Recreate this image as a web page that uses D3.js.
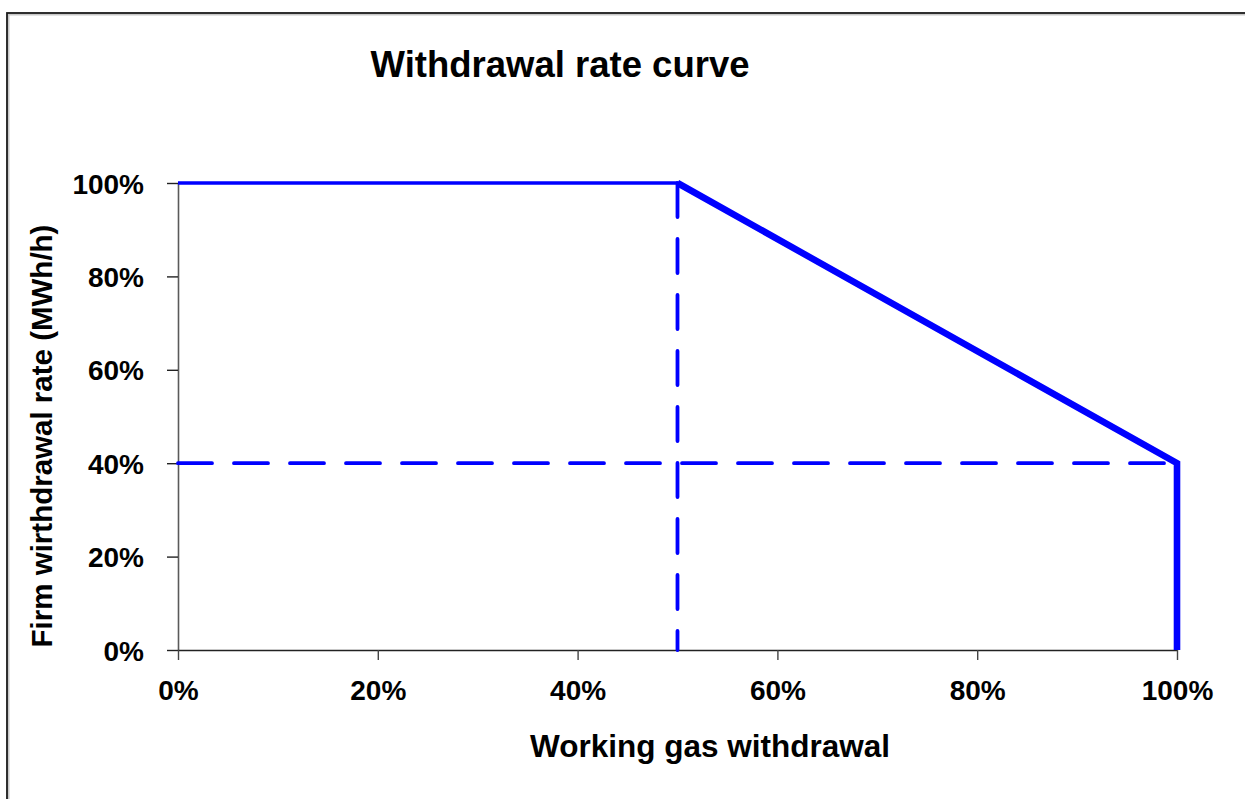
<!DOCTYPE html>
<html>
<head>
<meta charset="utf-8">
<script src="https://cdn.jsdelivr.net/npm/d3@7"></script>
<style>
  html, body { margin: 0; padding: 0; background: #fff; }
  svg { display: block; }
  text { font-family: "Liberation Sans", Arial, sans-serif; font-weight: bold; fill: #000; }
</style>
</head>
<body>
<svg id="chart" width="1245" height="799"></svg>
<script>
// ---- Data ----
const title = "Withdrawal rate curve";
const xTitle = "Working gas withdrawal";
const yTitle = "Firm wirthdrawal rate (MWh/h)";
const xTicks = [0, 20, 40, 60, 80, 100];
const yTicks = [0, 20, 40, 60, 80, 100];
// withdrawal curve: flat part then declining part (x = % withdrawn, y = % rate)
const flatSegment = [[0, 100], [50, 100]];
const declineSegment = [[50, 100], [100, 40], [100, 0]];
// dashed guide lines
const guideVertical = [[50, 100], [50, 0]];
const guideHorizontal = [[0, 40], [100, 40]];

// ---- Layout ----
const svg = d3.select("#chart");
const W = 1245, H = 799;
const plot = { left: 178, right: 1177, top: 183, bottom: 650 };

// frame
svg.append("rect").attr("x", 8.5).attr("y", 14.5).attr("width", W + 20).attr("height", H + 20)
  .attr("fill", "none").attr("stroke", "#c8c8c8").attr("stroke-width", 2);
svg.append("rect").attr("x", 7).attr("y", 13).attr("width", W + 20).attr("height", H + 20)
  .attr("fill", "none").attr("stroke", "#1a1a1a").attr("stroke-width", 1.8);

const x = d3.scaleLinear().domain([0, 100]).range([plot.left, plot.right]);
const y = d3.scaleLinear().domain([0, 100]).range([plot.bottom, plot.top]);
const fmt = d => d + "%";
const tickFont = "28px";

// y axis
const yAxis = svg.append("g").attr("transform", `translate(${plot.left},0)`)
  .call(d3.axisLeft(y).tickValues(yTicks).tickFormat(fmt).tickSize(11).tickSizeOuter(0));
yAxis.select(".domain").attr("stroke", "#5a5a5a").attr("stroke-width", 1.6);
yAxis.selectAll(".tick line").attr("stroke", "#222").attr("stroke-width", 1.4);
yAxis.selectAll(".tick text").attr("x", -34).attr("dy", "0.36em")
  .style("font-size", tickFont).style("font-family", "'Liberation Sans', Arial, sans-serif").style("font-weight", "bold");

// x axis
const xAxis = svg.append("g").attr("transform", `translate(0,${plot.bottom})`)
  .call(d3.axisBottom(x).tickValues(xTicks).tickFormat(fmt).tickSize(10).tickSizeOuter(0));
xAxis.select(".domain").attr("stroke", "#222").attr("stroke-width", 1.6);
xAxis.selectAll(".tick line").attr("stroke", "#444").attr("stroke-width", 1.4);
xAxis.selectAll(".tick text").attr("y", 50).attr("dy", 0)
  .style("font-size", tickFont).style("font-family", "'Liberation Sans', Arial, sans-serif").style("font-weight", "bold");

// lines
const line = d3.line().x(d => x(d[0])).y(d => y(d[1]));
const blue = "#0000ff";

svg.append("path").datum(guideHorizontal).attr("d", line)
  .attr("fill", "none").attr("stroke", blue).attr("stroke-width", 3.8)
  .attr("stroke-dasharray", "34,22").attr("stroke-linecap", "round");
svg.append("path").datum(guideVertical).attr("d", line)
  .attr("fill", "none").attr("stroke", blue).attr("stroke-width", 3.8)
  .attr("stroke-dasharray", "34,22").attr("stroke-linecap", "round");
svg.append("path").datum(flatSegment).attr("d", line)
  .attr("fill", "none").attr("stroke", blue).attr("stroke-width", 3.6);
svg.append("path").datum(declineSegment).attr("d", line)
  .attr("fill", "none").attr("stroke", blue).attr("stroke-width", 6.6)
  .attr("stroke-linejoin", "miter");

// titles
svg.append("text").attr("x", 560).attr("y", 77).attr("text-anchor", "middle")
  .style("font-size", "36.5px").text(title);
svg.append("text").attr("x", 710).attr("y", 757).attr("text-anchor", "middle")
  .style("font-size", "31.5px").text(xTitle);
svg.append("text").attr("transform", "translate(52,436) rotate(-90)").attr("text-anchor", "middle")
  .style("font-size", "29.5px").text(yTitle);
</script>
</body>
</html>
